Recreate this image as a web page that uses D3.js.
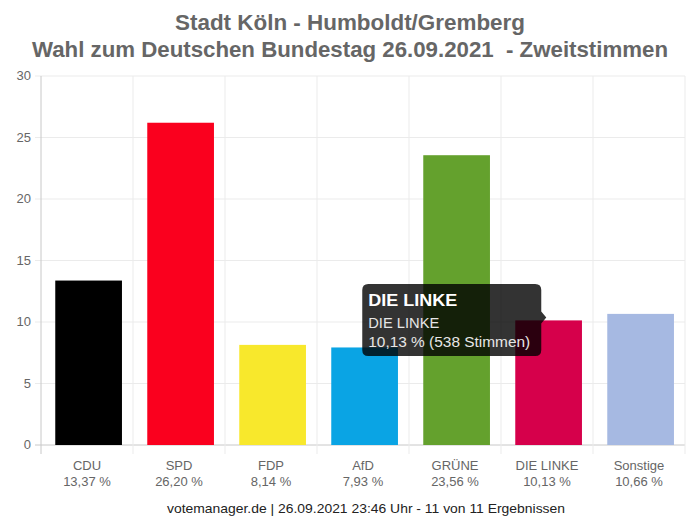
<!DOCTYPE html>
<html><head><meta charset="utf-8">
<script src="https://cdn.jsdelivr.net/npm/d3@7"></script>
<style>
body{margin:0;background:#fff;}
svg{display:block;}
text{white-space:pre;}
</style></head>
<body>
<svg id="c" width="695" height="527"></svg>
<script>
const categories = ["CDU","SPD","FDP","AfD","GRÜNE","DIE LINKE","Sonstige"];
const values = [13.37,26.20,8.14,7.93,23.56,10.13,10.66];
const valueLabels = ["13,37 %","26,20 %","8,14 %","7,93 %","23,56 %","10,13 %","10,66 %"];
const colors = ["#000000","#fa001e","#f8e82c","#0aa4e4","#64a12d","#d6004b","#a6b9e2"];
const yTicks = [0,5,10,15,20,25,30];
const titleLines = ["Stadt Köln - Humboldt/Gremberg","Wahl zum Deutschen Bundestag 26.09.2021  - Zweitstimmen"];
const footer = "votemanager.de | 26.09.2021 23:46 Uhr - 11 von 11 Ergebnissen";
const tooltip = {index:5, title:"DIE LINKE", lines:["DIE LINKE","10,13 % (538 Stimmen)"]};

const FONT = "'Liberation Sans Narrow','Arial Narrow','Liberation Sans',sans-serif";
const svg = d3.select("#c");
const m = {l:41, r:685, t:76, b:445};
const x = d3.scaleBand().domain(categories).range([m.l, m.r]);
const y = d3.scaleLinear().domain([0,30]).range([m.b, m.t]);

// title
const titleW = [350, 636];
svg.selectAll("text.title").data(titleLines).join("text")
  .attr("class","title")
  .attr("x",350).attr("y",(d,i)=>30+i*27)
  .attr("text-anchor","middle")
  .attr("font-family",FONT).attr("font-weight","bold").attr("font-size",22)
  .attr("textLength",(d,i)=>titleW[i]).attr("lengthAdjust","spacingAndGlyphs")
  .attr("fill","#666").text(d=>d);

// horizontal grid
const g = svg.append("g");
g.selectAll("line.hg").data(yTicks).join("line")
  .attr("x1",m.l-6).attr("x2",m.r)
  .attr("y1",d=>y(d)).attr("y2",d=>y(d))
  .attr("stroke",d=>d===0?"#c8c8c8":"#ebebeb").attr("stroke-width",1);
// vertical grid
const bounds = categories.map(c=>x(c)).concat([m.r]);
g.selectAll("line.vg").data(bounds).join("line")
  .attr("x1",d=>d).attr("x2",d=>d)
  .attr("y1",m.t).attr("y2",m.b+9)
  .attr("stroke",(d,i)=>i===0?"#c8c8c8":"#ebebeb").attr("stroke-width",1);

// y tick labels
svg.selectAll("text.yt").data(yTicks).join("text")
  .attr("x",m.l-10).attr("y",d=>y(d)+4)
  .attr("text-anchor","end")
  .attr("font-family",FONT).attr("font-size",13).attr("fill","#666")
  .text(d=>d);

// bars
const bw = x.bandwidth();
const barX = i => x(categories[i]) + bw*0.155;
svg.selectAll("rect.bar").data(values).join("rect")
  .attr("x",(d,i)=>barX(i))
  .attr("width",bw*0.725)
  .attr("y",d=>y(d)).attr("height",d=>y(0)-y(d))
  .attr("fill",(d,i)=>colors[i]);

// x labels
svg.selectAll("text.xl").data(categories).join("text")
  .attr("x",d=>x(d)+bw/2).attr("y",470)
  .attr("text-anchor","middle")
  .attr("font-family",FONT).attr("font-size",13).attr("fill","#666").text(d=>d);
svg.selectAll("text.xv").data(valueLabels).join("text")
  .attr("x",(d,i)=>x(categories[i])+bw/2).attr("y",486)
  .attr("text-anchor","middle")
  .attr("font-family",FONT).attr("font-size",13).attr("fill","#666").text(d=>d);

// footer
svg.append("text").attr("x",366).attr("y",513).attr("text-anchor","middle")
  .attr("font-family",FONT).attr("font-size",13).attr("fill","#222")
  .attr("textLength",398).attr("lengthAdjust","spacingAndGlyphs").text(footer);

// tooltip
const ti = tooltip.index;
const tipX = barX(ti) + 31;
const tipY = y(values[ti]) - 3;
const bx1 = tipX - 5, bx0 = bx1 - 179, by0 = 284, by1 = 356;
const tg = svg.append("g");
const r = 6;
const path = `M${bx0+r},${by0} H${bx1-r} Q${bx1},${by0} ${bx1},${by0+r} V${tipY-6} L${tipX},${tipY} L${bx1},${tipY+6} V${by1-r} Q${bx1},${by1} ${bx1-r},${by1} H${bx0+r} Q${bx0},${by1} ${bx0},${by1-r} V${by0+r} Q${bx0},${by0} ${bx0+r},${by0} Z`;
tg.append("path").attr("d",path).attr("fill","rgba(0,0,0,0.8)");
tg.append("text").attr("x",bx0+6).attr("y",306)
  .attr("font-family","'Liberation Sans',Arial,sans-serif").attr("font-weight","bold").attr("font-size",17)
  .attr("textLength",89).attr("lengthAdjust","spacingAndGlyphs")
  .attr("fill","#fff").text(tooltip.title);
const lineW = [71, 162];
tg.selectAll("text.tl").data(tooltip.lines).join("text")
  .attr("x",bx0+6).attr("y",(d,i)=>328+i*19)
  .attr("font-family","'Liberation Sans',Arial,sans-serif").attr("font-size",14.5)
  .attr("textLength",(d,i)=>lineW[i]).attr("lengthAdjust","spacingAndGlyphs")
  .attr("fill","#e6e6e6").text(d=>d);
</script>
</body></html>
